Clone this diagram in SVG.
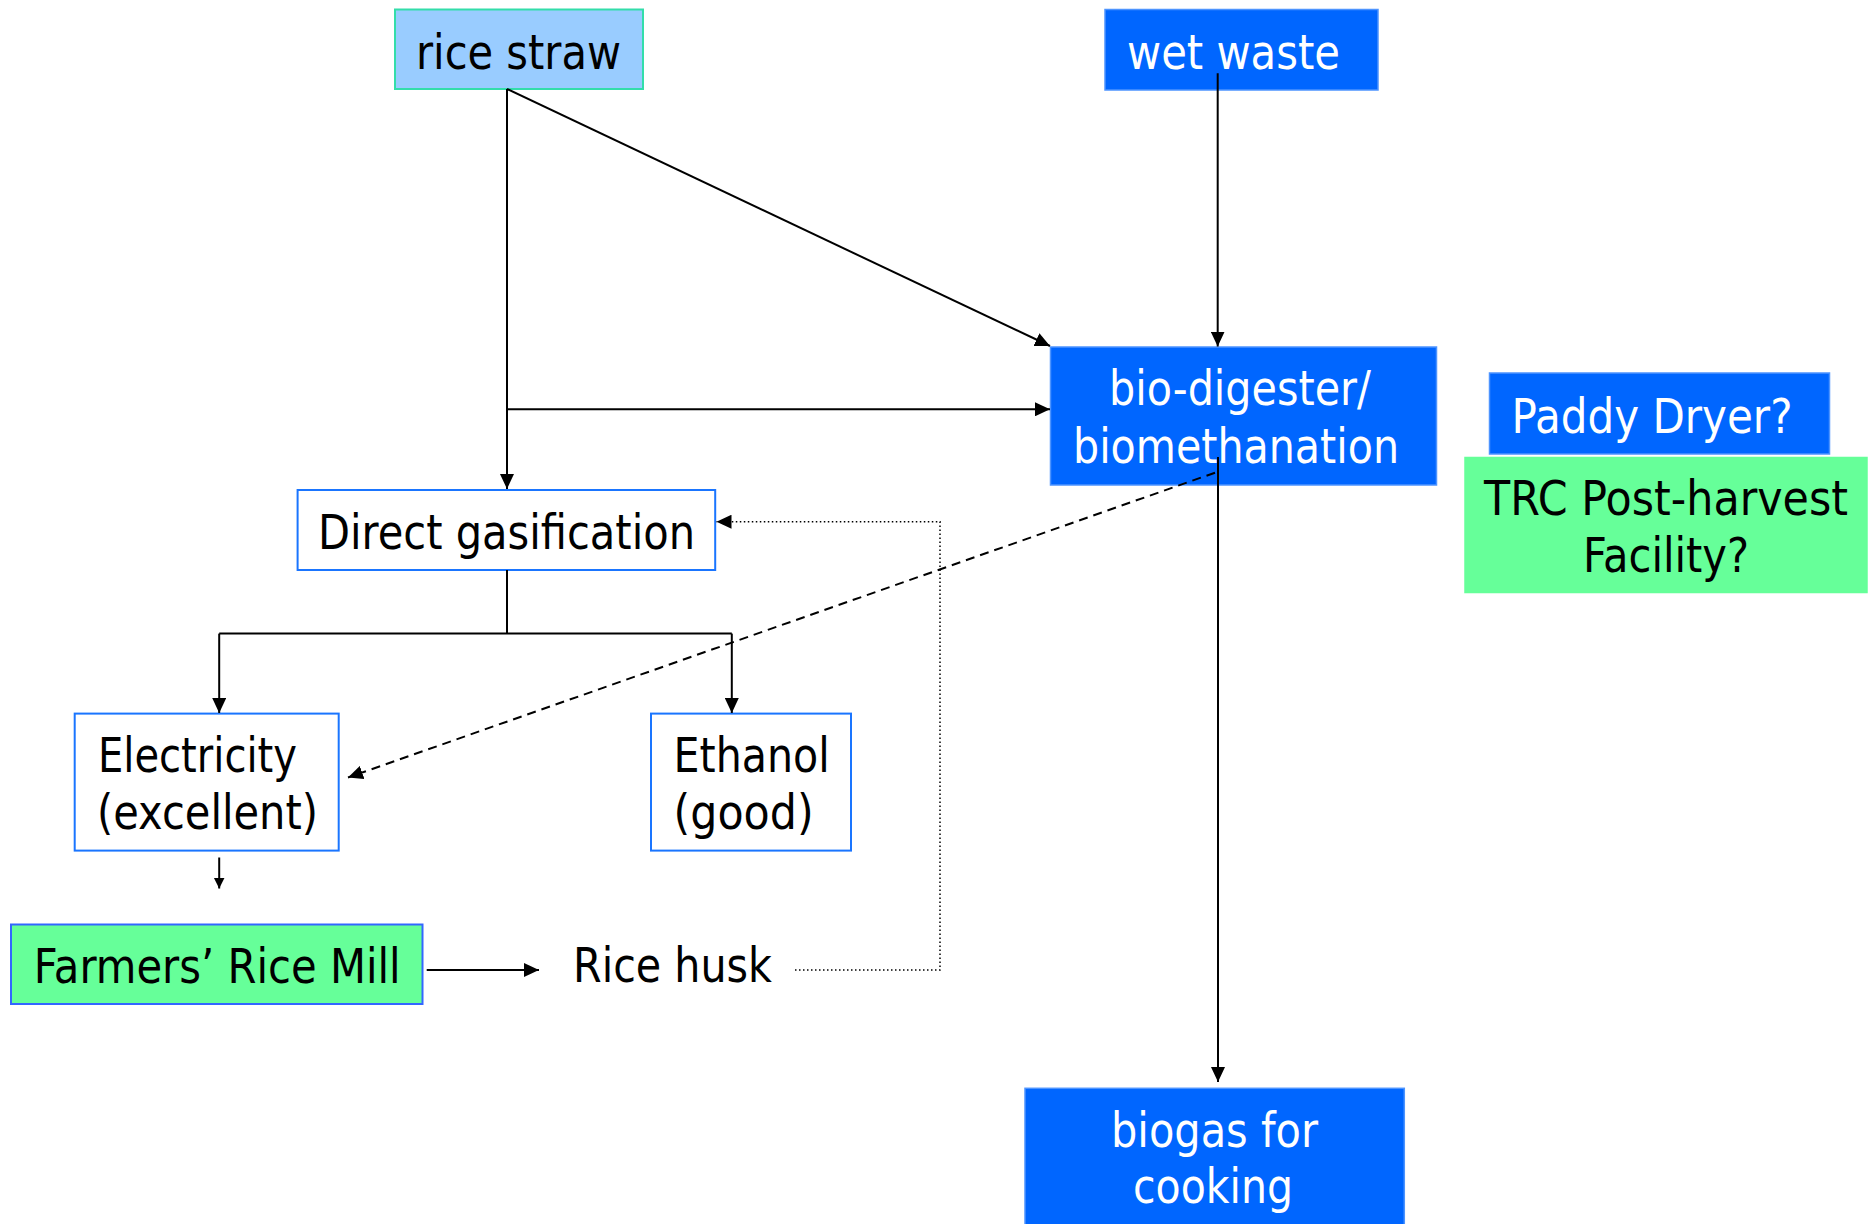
<svg xmlns="http://www.w3.org/2000/svg" width="1871" height="1224" viewBox="0 0 1871 1224">
  <style>
    text { font-family: "DejaVu Sans", Verdana, sans-serif; font-size: 48px; fill: #000; }
    .w { fill: #fff; }
    .blue { fill: #0066FF; stroke: #4D94FF; stroke-width: 1.5; }
    .green { fill: #66FF99; stroke: #66FF99; stroke-width: 1.5; }
    .white { fill: #fff; stroke: #1A75FF; stroke-width: 2; }
    .ln { fill: none; stroke: #000; stroke-width: 2; }
    .dash { fill: none; stroke: #000; stroke-width: 2; stroke-dasharray: 9 6; }
    .dot { fill: none; stroke: #000; stroke-width: 1.5; stroke-dasharray: 1.5 2.5; }
  </style>
  <defs>
    <marker id="ah" markerUnits="userSpaceOnUse" markerWidth="16" markerHeight="14" refX="15" refY="7" orient="auto">
      <path d="M0,0 L15,7 L0,14 z" fill="#000"/>
    </marker>
    <marker id="ahs" markerUnits="userSpaceOnUse" markerWidth="12" markerHeight="12" refX="11" refY="5.5" orient="auto">
      <path d="M0,0 L11,5.5 L0,11 z" fill="#000"/>
    </marker>
  </defs>
  <rect width="1871" height="1224" fill="#fff"/>

  <g id="rice-straw">
    <rect x="395" y="9.5" width="248" height="79.5" fill="#99CCFF" stroke="#33DDAA" stroke-width="2"/>
    <text x="416" y="68.5" textLength="205" lengthAdjust="spacingAndGlyphs">rice straw</text>
  </g>
  <g id="wet-waste">
    <rect class="blue" x="1105" y="9.5" width="273" height="80.5"/>
    <text class="w" x="1127" y="68.5" textLength="213" lengthAdjust="spacingAndGlyphs">wet waste</text>
  </g>
  <g id="bio-digester">
    <rect class="blue" x="1050.5" y="347" width="386" height="138"/>
    <text class="w" x="1109" y="405" textLength="262" lengthAdjust="spacingAndGlyphs">bio-digester/</text>
    <text class="w" x="1073" y="463" textLength="326" lengthAdjust="spacingAndGlyphs">biomethanation</text>
  </g>
  <g id="paddy-dryer">
    <rect class="blue" x="1489.5" y="373" width="340" height="81"/>
    <text class="w" x="1511.5" y="433" textLength="281" lengthAdjust="spacingAndGlyphs">Paddy Dryer?</text>
  </g>
  <g id="trc">
    <rect class="green" x="1465" y="457.5" width="402" height="135"/>
    <text x="1484" y="515" textLength="364" lengthAdjust="spacingAndGlyphs">TRC Post-harvest</text>
    <text x="1583" y="572" textLength="166" lengthAdjust="spacingAndGlyphs">Facility?</text>
  </g>
  <g id="direct-gasification">
    <rect class="white" x="297.6" y="490" width="417.6" height="80"/>
    <text x="318" y="548.5" textLength="377" lengthAdjust="spacingAndGlyphs">Direct gasification</text>
  </g>
  <g id="electricity">
    <rect class="white" x="74.7" y="713.6" width="264" height="137"/>
    <text x="98" y="772" textLength="199" lengthAdjust="spacingAndGlyphs">Electricity</text>
    <text x="97" y="829" textLength="221" lengthAdjust="spacingAndGlyphs">(excellent)</text>
  </g>
  <g id="ethanol">
    <rect class="white" x="651" y="713.6" width="200" height="137"/>
    <text x="673.6" y="772" textLength="156" lengthAdjust="spacingAndGlyphs">Ethanol</text>
    <text x="673.6" y="829" textLength="140" lengthAdjust="spacingAndGlyphs">(good)</text>
  </g>
  <g id="farmers-rice-mill">
    <rect x="11" y="924.5" width="411.5" height="79.5" fill="#66FF99" stroke="#3366FF" stroke-width="2"/>
    <text x="33.7" y="982.5" textLength="367" lengthAdjust="spacingAndGlyphs">Farmers’ Rice Mill</text>
  </g>
  <g id="rice-husk">
    <text x="573" y="982" textLength="199" lengthAdjust="spacingAndGlyphs">Rice husk</text>
  </g>
  <g id="biogas">
    <rect class="blue" x="1025" y="1088.3" width="379.3" height="140"/>
    <text class="w" x="1111" y="1146.7" textLength="207" lengthAdjust="spacingAndGlyphs">biogas for</text>
    <text class="w" x="1133" y="1203" textLength="160" lengthAdjust="spacingAndGlyphs">cooking</text>
  </g>

  <g id="connectors">
    <path class="ln" d="M507 89 V489" marker-end="url(#ah)"/>
    <path class="ln" d="M507 89 L1050 346" marker-end="url(#ah)"/>
    <path class="ln" d="M507 409.3 H1050" marker-end="url(#ah)"/>
    <path class="ln" d="M1217.7 73.3 V346.5" marker-end="url(#ah)"/>
    <path class="ln" d="M1218 457 V1082" marker-end="url(#ah)"/>
    <path class="dash" d="M1215 472.7 L348 777.5" marker-end="url(#ah)"/>
    <path class="ln" d="M507 570 V633.6 M219.2 633.6 H731.8"/>
    <path class="ln" d="M219.2 633.6 V713" marker-end="url(#ah)"/>
    <path class="ln" d="M731.8 633.6 V713" marker-end="url(#ah)"/>
    <path class="ln" d="M219.2 857.5 V888.5" marker-end="url(#ahs)"/>
    <path class="ln" d="M426.7 970 H539" marker-end="url(#ah)"/>
    <path class="dot" d="M795 970 H940 V521.7 H716.5" marker-end="url(#ah)"/>
  </g>
</svg>
